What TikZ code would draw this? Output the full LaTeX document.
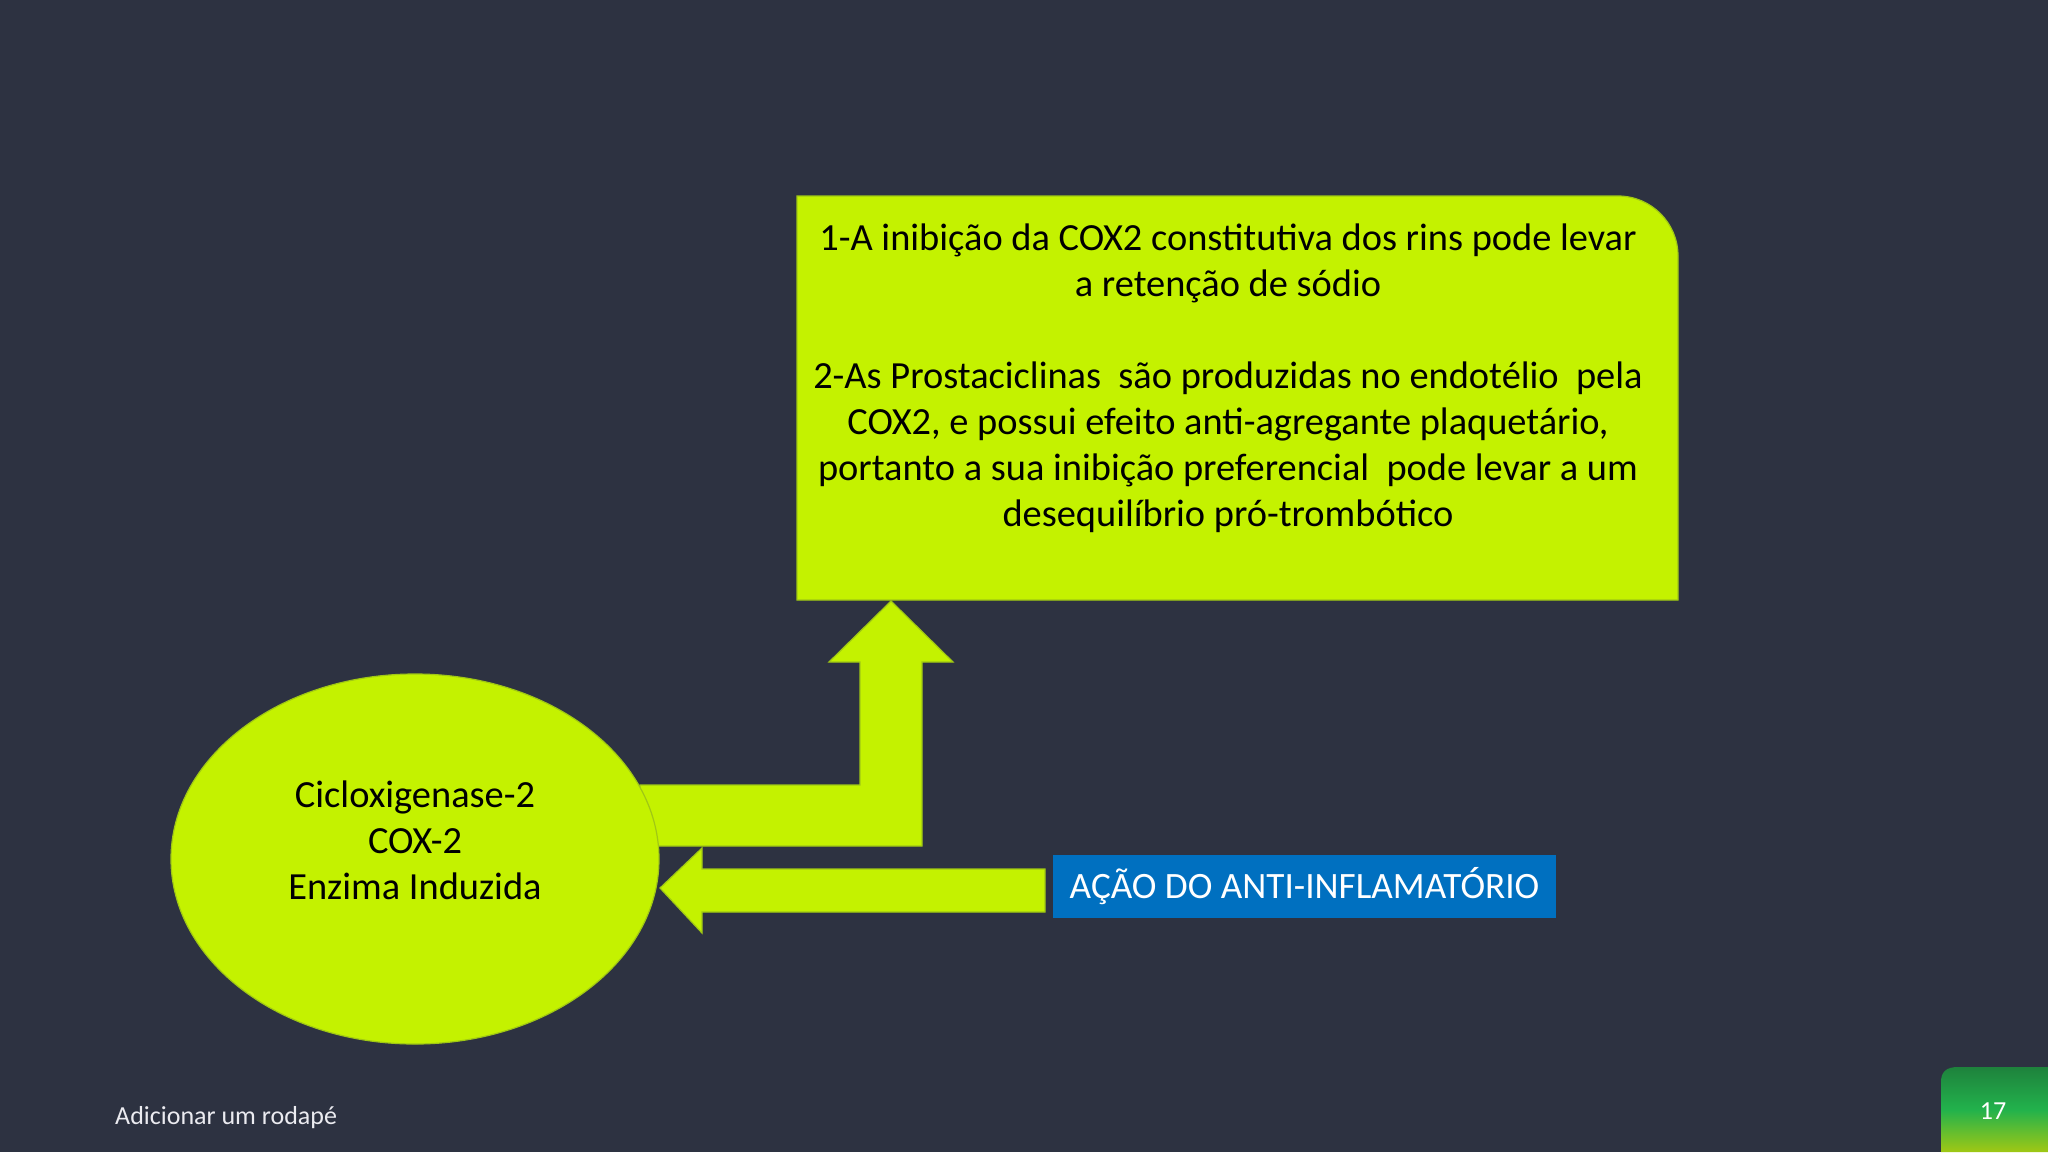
\documentclass[tikz,border=0pt]{standalone}
\usepackage{fontspec}
\setmainfont{Carlito}
\usetikzlibrary{shapes.geometric}
\definecolor{bg}{RGB}{45,50,65}
\definecolor{lime}{RGB}{196,242,0}
\definecolor{limeedge}{RGB}{160,200,20}
\definecolor{actblue}{RGB}{0,112,192}
\definecolor{badgetop}{RGB}{30,130,60}
\definecolor{badgemid}{RGB}{34,178,76}
\definecolor{badgebot}{RGB}{160,200,20}
\definecolor{foot}{RGB}{235,235,240}
\tikzset{
  limefill/.style={fill=lime, draw=limeedge, line width=1.2pt},
  bodytext/.style={font=\fontsize{38.4}{46}\selectfont, text=black, align=center},
}
\begin{document}
\begin{tikzpicture}[x=1pt,y=-1pt]
\useasboundingbox (0,0) rectangle (2048,1152);
\fill[bg] (0,0) rectangle (2048,1152);

% text box with rounded top-right corner
\draw[limefill] (797,196) -- (1618,196) arc[start angle=-90, end angle=0, radius=60] -- (1678,600) -- (797,600) -- cycle;
\node[bodytext] (info) at (1228,378) {1-A inibição da COX2 constitutiva dos rins pode levar\\a retenção de sódio\\[46pt]2-As Prostaciclinas\ \ são produzidas no endotélio\ \ pela\\COX2, e possui efeito anti-agregante plaquetário,\\portanto a sua inibição preferencial\ \ pode levar a um\\desequilíbrio pró-trombótico};

% bent up arrow from ellipse to box
\draw[limefill] (640,785) -- (860,785) -- (860,662) -- (829,662) -- (891,601) -- (953,662) -- (922,662) -- (922,846) -- (640,846) -- cycle;

% left arrow from blue box to ellipse
\draw[limefill] (1045,869) -- (702,869) -- (702,848) -- (660,888) -- (702,933) -- (702,912) -- (1045,912) -- cycle;

% ellipse
\node[ellipse, limefill, minimum width=488, minimum height=370] (cox) at (415,859) {};
\node[bodytext] (coxtext) at (415,840) {Cicloxigenase-2\\COX-2\\Enzima Induzida};

% blue label
\node[fill=actblue, minimum width=503, minimum height=63, inner sep=0pt, text=white, font=\fontsize{37.2}{44}\selectfont] (acao) at (1304.5,886.5) {AÇÃO DO ANTI-INFLAMATÓRIO};

% footer
\node[anchor=west, text=foot, font=\fontsize{26}{30}\selectfont, inner sep=0pt] (footer) at (115,1118) {Adicionar um rodapé};

% page badge
\shade[top color=badgetop, bottom color=badgebot, middle color=badgemid] (1941,1152) -- (1941,1082) .. controls (1941,1072) and (1946,1067) .. (1958,1067) -- (2048,1067) -- (2048,1152) -- cycle;
\node[text=white, font=\fontsize{26}{30}\selectfont] (pagenum) at (1993,1111) {17};
\end{tikzpicture}
\end{document}
